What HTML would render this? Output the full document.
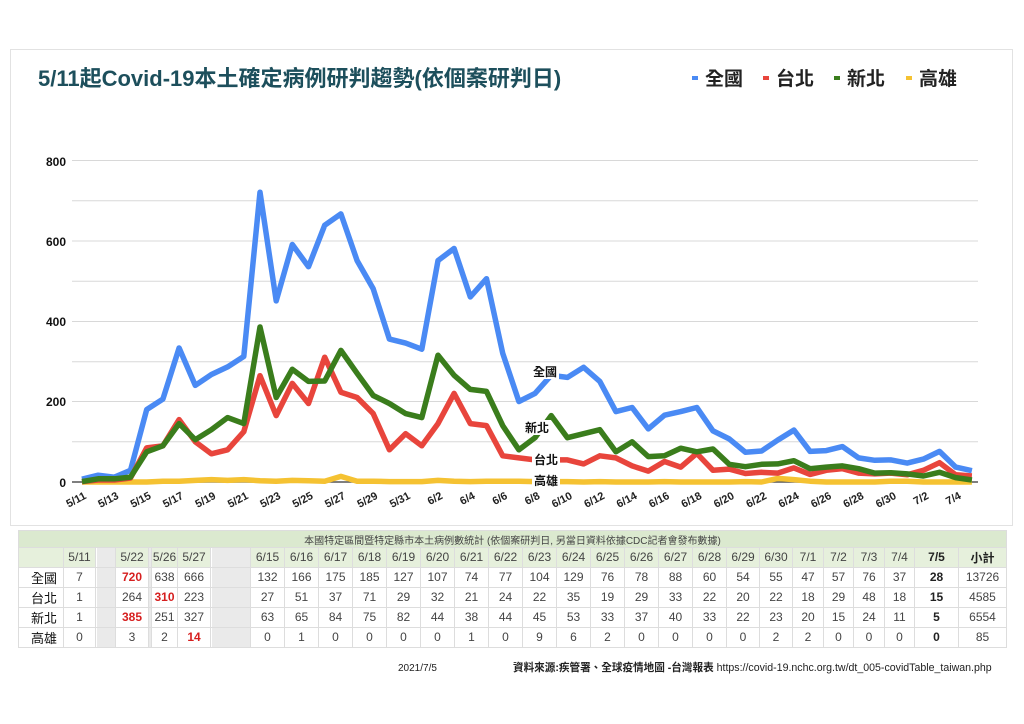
<!DOCTYPE html>
<html><head><meta charset="utf-8">
<style>
body{margin:0;background:#fff;width:1024px;height:724px;overflow:hidden;font-family:"Liberation Sans","Noto Sans CJK TC",sans-serif}
svg{display:block}
</style></head><body>
<svg id="s" width="1024" height="724" xmlns="http://www.w3.org/2000/svg" font-family="Liberation Sans, Noto Sans CJK TC, sans-serif">
<rect x="10.5" y="49.5" width="1002" height="476" fill="#fff" stroke="#e2e2e2"/>
<text x="38" y="86" font-size="22" font-weight="bold" fill="#1d4f5c">5/11起Covid-19本土確定病例研判趨勢(依個案研判日)</text>
<g font-size="19" font-weight="bold" fill="#222">
<rect x="692" y="76" width="6" height="4" fill="#4a8af4"/><text x="705" y="85">全國</text>
<rect x="763" y="76" width="6" height="4" fill="#e8453c"/><text x="776" y="85">台北</text>
<rect x="834" y="76" width="6" height="4" fill="#3a7d1c"/><text x="847" y="85">新北</text>
<rect x="906" y="76" width="6" height="4" fill="#f5c232"/><text x="919" y="85">高雄</text>
</g>
<g stroke="#d8d8d8" stroke-width="1">
<line x1="72" x2="978" y1="160.5" y2="160.5"/><line x1="72" x2="978" y1="200.7" y2="200.7"/>
<line x1="72" x2="978" y1="241" y2="241"/><line x1="72" x2="978" y1="281.2" y2="281.2"/>
<line x1="72" x2="978" y1="321.5" y2="321.5"/><line x1="72" x2="978" y1="361.7" y2="361.7"/>
<line x1="72" x2="978" y1="401.5" y2="401.5"/><line x1="72" x2="978" y1="441.7" y2="441.7"/>
</g>
<line x1="72" x2="978" y1="482" y2="482" stroke="#555" stroke-width="1.5"/>
<g font-size="12" font-weight="bold" fill="#111" text-anchor="end">
<text x="66" y="166">800</text><text x="66" y="246">600</text><text x="66" y="326">400</text><text x="66" y="406">200</text><text x="66" y="487">0</text>
</g>
<g id="lines" fill="none" stroke-width="5.5" stroke-linejoin="round"></g>
<g id="xl" font-size="11" font-weight="bold" fill="#222" text-anchor="end">
<text transform="translate(87,498) rotate(-28)">5/11</text>
<text transform="translate(119.4,498) rotate(-28)">5/13</text>
<text transform="translate(151.8,498) rotate(-28)">5/15</text>
<text transform="translate(184.2,498) rotate(-28)">5/17</text>
<text transform="translate(216.6,498) rotate(-28)">5/19</text>
<text transform="translate(249,498) rotate(-28)">5/21</text>
<text transform="translate(281.4,498) rotate(-28)">5/23</text>
<text transform="translate(313.8,498) rotate(-28)">5/25</text>
<text transform="translate(346.2,498) rotate(-28)">5/27</text>
<text transform="translate(378.6,498) rotate(-28)">5/29</text>
<text transform="translate(411,498) rotate(-28)">5/31</text>
<text transform="translate(443.4,498) rotate(-28)">6/2</text>
<text transform="translate(475.8,498) rotate(-28)">6/4</text>
<text transform="translate(508.2,498) rotate(-28)">6/6</text>
<text transform="translate(540.6,498) rotate(-28)">6/8</text>
<text transform="translate(573,498) rotate(-28)">6/10</text>
<text transform="translate(605.4,498) rotate(-28)">6/12</text>
<text transform="translate(637.8,498) rotate(-28)">6/14</text>
<text transform="translate(670.2,498) rotate(-28)">6/16</text>
<text transform="translate(702.6,498) rotate(-28)">6/18</text>
<text transform="translate(735,498) rotate(-28)">6/20</text>
<text transform="translate(767.4,498) rotate(-28)">6/22</text>
<text transform="translate(799.8,498) rotate(-28)">6/24</text>
<text transform="translate(832.2,498) rotate(-28)">6/26</text>
<text transform="translate(864.6,498) rotate(-28)">6/28</text>
<text transform="translate(897,498) rotate(-28)">6/30</text>
<text transform="translate(929.4,498) rotate(-28)">7/2</text>
<text transform="translate(961.8,498) rotate(-28)">7/4</text>
</g>
<g id="lbl" font-size="12" font-weight="bold" fill="#111">
<rect x="531" y="364" width="28" height="15" fill="#fff"/><text x="533" y="376">全國</text>
<rect x="523" y="420" width="28" height="15" fill="#fff"/><text x="525" y="432">新北</text>
<rect x="532" y="452" width="28" height="15" fill="#fff"/><text x="534" y="464">台北</text>
<rect x="532" y="473" width="28" height="14" fill="#fff"/><text x="534" y="485">高雄</text>
</g>
<text x="398" y="671" font-size="10" fill="#222">2021/7/5</text>
<text x="513" y="671" font-size="10.6" fill="#222"><tspan font-weight="bold">資料來源:疾管署、全球疫情地圖 -台灣報表</tspan> https://covid-19.nchc.org.tw/dt_005-covidTable_taiwan.php</text>
</svg>
<script>
var X=function(i){return 82+16.18*i},Y=function(v){return 482-0.4025*v};
var blue=[7,17,12,29,180,206,333,240,267,286,312,720,450,590,535,638,666,550,480,355,345,330,550,580,460,505,320,200,220,265,260,285,250,175,185,132,166,175,185,127,107,74,77,104,129,76,78,88,60,54,55,47,57,76,37,28];
var red=[1,5,5,10,85,90,155,100,70,80,125,264,165,245,195,310,223,210,170,80,120,90,145,220,145,140,65,60,55,55,55,45,65,60,40,27,51,37,71,29,32,21,24,22,35,19,29,33,22,20,22,18,29,48,18,15];
var green=[1,8,8,12,75,90,145,105,130,160,145,385,210,280,250,251,327,270,215,195,170,160,315,265,230,225,140,80,110,165,110,120,130,75,100,63,65,84,75,82,44,38,44,45,53,33,37,40,33,22,23,20,15,24,11,5];
var yel=[0,0,0,0,0,2,2,4,6,4,6,3,2,4,3,2,14,2,2,1,1,1,4,2,1,2,2,2,1,1,1,0,1,0,0,0,1,0,0,0,0,1,0,9,6,2,0,0,0,0,2,2,0,0,0,0];
var g=document.getElementById('lines'),ns='http://www.w3.org/2000/svg';
[[yel,'#f5c232'],[blue,'#4a8af4'],[red,'#e8453c'],[green,'#3a7d1c']].forEach(function(s){
 var p=document.createElementNS(ns,'polyline');p.setAttribute('points',s[0].map(function(v,i){return X(i).toFixed(1)+','+Y(v).toFixed(1)}).join(' '));p.setAttribute('stroke',s[1]);g.appendChild(p);});
var s=document.getElementById('s');s.appendChild(document.getElementById('lbl'));
</script>
<table style="position:absolute;left:18px;top:530px;width:988px;border-collapse:collapse;font-size:12px;color:#444;table-layout:fixed;font-family:'Liberation Sans','Noto Sans CJK TC',sans-serif">
<colgroup><col style="width:45px"><col style="width:32px"><col style="width:20px"><col style="width:33px"><col style="width:3px"><col style="width:26px"><col style="width:33px"><col style="width:40px">
<col style="width:34px"><col style="width:34px"><col style="width:34px"><col style="width:34px"><col style="width:34px"><col style="width:34px"><col style="width:34px"><col style="width:34px"><col style="width:34px"><col style="width:34px"><col style="width:34px"><col style="width:34px"><col style="width:34px"><col style="width:34px"><col style="width:33px"><col style="width:33px">
<col style="width:31px"><col style="width:30px"><col style="width:31px"><col style="width:30px"><col style="width:44px"><col style="width:48px"></colgroup>
<style>td{border:1px solid #ddd;text-align:center;padding:0;height:18.5px;white-space:nowrap;overflow:hidden}.h td{background:#e6f0dc}.gp{background:repeating-linear-gradient(90deg,#fff 0 1px,#d4d4d4 1px 2px)!important}.r{color:#d61f1f;font-weight:bold}.b{font-weight:bold;color:#222}.n{text-align:left;padding-left:12px;font-size:13px;color:#111}</style>
<tr class="h"><td colspan="30" style="height:16px;background:#dbe9cf;font-size:10px;padding-left:0">本國特定區間暨特定縣市本土病例數統計 (依個案研判日, 另當日資料依據CDC記者會發布數據)</td></tr>
<tr class="h" style="font-size:12px"><td></td><td>5/11</td><td class="gp"></td><td>5/22</td><td class="gp"></td><td>5/26</td><td>5/27</td><td class="gp"></td><td>6/15</td><td>6/16</td><td>6/17</td><td>6/18</td><td>6/19</td><td>6/20</td><td>6/21</td><td>6/22</td><td>6/23</td><td>6/24</td><td>6/25</td><td>6/26</td><td>6/27</td><td>6/28</td><td>6/29</td><td>6/30</td><td>7/1</td><td>7/2</td><td>7/3</td><td>7/4</td><td class="b">7/5</td><td class="b">小計</td></tr>
<tr><td class="n">全國</td><td>7</td><td class="gp"></td><td class="r">720</td><td class="gp"></td><td>638</td><td>666</td><td class="gp"></td><td>132</td><td>166</td><td>175</td><td>185</td><td>127</td><td>107</td><td>74</td><td>77</td><td>104</td><td>129</td><td>76</td><td>78</td><td>88</td><td>60</td><td>54</td><td>55</td><td>47</td><td>57</td><td>76</td><td>37</td><td class="b">28</td><td>13726</td></tr>
<tr><td class="n">台北</td><td>1</td><td class="gp"></td><td>264</td><td class="gp"></td><td class="r">310</td><td>223</td><td class="gp"></td><td>27</td><td>51</td><td>37</td><td>71</td><td>29</td><td>32</td><td>21</td><td>24</td><td>22</td><td>35</td><td>19</td><td>29</td><td>33</td><td>22</td><td>20</td><td>22</td><td>18</td><td>29</td><td>48</td><td>18</td><td class="b">15</td><td>4585</td></tr>
<tr><td class="n">新北</td><td>1</td><td class="gp"></td><td class="r">385</td><td class="gp"></td><td>251</td><td>327</td><td class="gp"></td><td>63</td><td>65</td><td>84</td><td>75</td><td>82</td><td>44</td><td>38</td><td>44</td><td>45</td><td>53</td><td>33</td><td>37</td><td>40</td><td>33</td><td>22</td><td>23</td><td>20</td><td>15</td><td>24</td><td>11</td><td class="b">5</td><td>6554</td></tr>
<tr><td class="n">高雄</td><td>0</td><td class="gp"></td><td>3</td><td class="gp"></td><td>2</td><td class="r">14</td><td class="gp"></td><td>0</td><td>1</td><td>0</td><td>0</td><td>0</td><td>0</td><td>1</td><td>0</td><td>9</td><td>6</td><td>2</td><td>0</td><td>0</td><td>0</td><td>0</td><td>2</td><td>2</td><td>0</td><td>0</td><td>0</td><td class="b">0</td><td>85</td></tr>
</table>
</body></html>
